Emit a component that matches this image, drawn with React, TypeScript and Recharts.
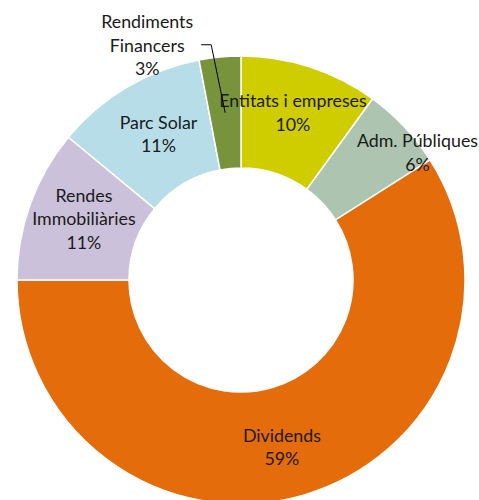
import React from 'react';
import { PieChart, Pie, Cell } from 'recharts';

// slices clockwise from 12 o'clock
const categories = [
  'Entitats i empreses',
  'Adm. Públiques',
  'Dividends',
  'Rendes\nImmobiliàries',
  'Parc Solar',
  'Rendiments\nFinancers',
];
const shares = [10, 6, 59, 11, 11, 3];
const colors = ['#cfcd00', '#adc5b0', '#e46c0a', '#ccc1da', '#b7dde8', '#77933c'];

const data = categories.map((name, i) => ({ name, value: shares[i] }));

// label nudges (px) from the mid-ring point
const nudge: Record<number, [number, number]> = {
  0: [0, -8],
  1: [54, -13],
  2: [-6, 5],
  3: [1, -5],
  4: [3, -2],
  5: [-78, -68],
};

const LINE = 23.5;

const renderLabel = (props: any) => {
  const { cx, cy, midAngle, innerRadius, outerRadius, index, name, value } = props;
  const r = (innerRadius + outerRadius) / 2;
  const rad = (Math.PI / 180) * midAngle;
  const px = cx + r * Math.cos(rad);
  const py = cy - r * Math.sin(rad);
  const [dx, dy] = nudge[index] || [0, 0];
  const x = px + dx;
  const y = py + dy;
  const lines = [...String(name).split('\n'), `${value}%`];
  const top = y - ((lines.length - 1) / 2) * LINE;
  return (
    <g>
      {index === 5 && (
        <polyline
          points={`${px},${py} ${px - 14},${py - 68} ${px - 24},${py - 68}`}
          fill="none"
          stroke="#000"
          strokeWidth={1}
        />
      )}
      <text
        x={x}
        textAnchor="middle"
        dominantBaseline="central"
        fontFamily="Lato, 'Noto Sans', sans-serif"
        fontSize={17.8}
        fill="#1a1a1a"
      >
        {lines.map((l, i) => (
          <tspan key={i} x={x} y={top + i * LINE}>
            {l}
          </tspan>
        ))}
      </text>
    </g>
  );
};

export default function App() {
  return (
    <div style={{ position: 'absolute', left: 0, top: 0, background: '#fff' }}>
      <PieChart width={479} height={500} margin={{ top: 0, right: 0, bottom: 0, left: 0 }}>
        <Pie
          data={data}
          dataKey="value"
          nameKey="name"
          cx={241}
          cy={280}
          innerRadius={112}
          outerRadius={224}
          startAngle={90}
          endAngle={-270}
          stroke="#ffffff"
          strokeWidth={1.5}
          label={renderLabel}
          labelLine={false}
          isAnimationActive={false}
        >
          {data.map((d, i) => (
            <Cell key={d.name} fill={colors[i]} />
          ))}
        </Pie>
      </PieChart>
    </div>
  );
}
